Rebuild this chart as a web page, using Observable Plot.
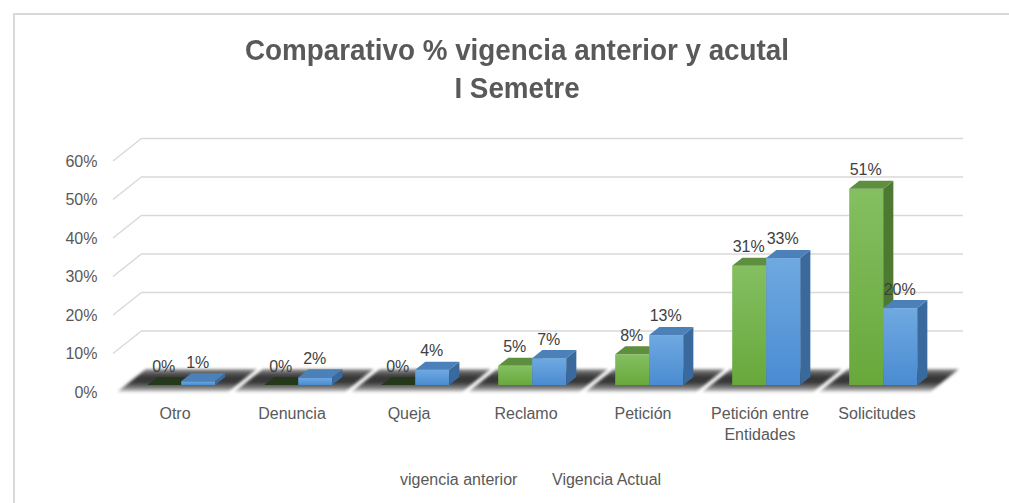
<!DOCTYPE html>
<html>
<head>
<meta charset="utf-8">
<script src="https://cdn.jsdelivr.net/npm/d3@7"></script>
<script src="https://cdn.jsdelivr.net/npm/@observablehq/plot@0.6"></script>
<style>
  body { margin: 0; background: #fff; font-family: "Liberation Sans", Arial, sans-serif; }
  #wrap { position: relative; width: 1009px; height: 503px; overflow: hidden; }
  #frame { position: absolute; left: 13px; top: 13px; width: 1200px; height: 700px; border-left: 2px solid #d9d9d9; border-top: 2px solid #d9d9d9; }
  #title { position: absolute; left: 0; top: 31px; width: 1034px; text-align: center; font-weight: bold; font-size: 30px; line-height: 38px; color: #595959; transform: scaleX(0.927); transform-origin: 517px 0; }
  #chart { position: absolute; left: 0; top: 118px; }
  .leg { position: absolute; top: 471px; font-size: 16px; line-height: 18px; color: #595959; white-space: nowrap; }
</style>
</head>
<body>
<div id="wrap">
  <div id="frame"></div>
  <div id="title">Comparativo % vigencia anterior y acutal<br>I Semetre</div>
  <div id="chart"></div>
  <div id="legend"></div>
</div>
<script>
// ---- data ----
const categories = ["Otro", "Denuncia", "Queja", "Reclamo", "Petición", "Petición entre Entidades", "Solicitudes"];
const categoryLabels = ["Otro", "Denuncia", "Queja", "Reclamo", "Petición", "Petición entre\nEntidades", "Solicitudes"];
const seriesNames = ["vigencia anterior", "Vigencia Actual"];
const vigenciaAnterior = [0, 0, 0, 0.05, 0.08, 0.31, 0.51];
const vigenciaActual = [0.01, 0.02, 0.04, 0.07, 0.13, 0.33, 0.20];
const yTicks = [0, 0.1, 0.2, 0.3, 0.4, 0.5, 0.6];

const data = categories.flatMap((c, i) => [
  {cat: c, series: seriesNames[0], s: 0, value: vigenciaAnterior[i]},
  {cat: c, series: seriesNames[1], s: 1, value: vigenciaActual[i]}
]);

const pct = d3.format(".0%");
const DX = 29, DY = -23;     // depth vector of the 3D box
const F0 = 0.3, F1 = 0.65;   // bar front / back depth fractions
const BARW = 34;

const colors = [
  {front: ["#84bf61", "#68a83b"], top: "#5e8f3f", side: "#4d7a31", zeroTop: "#24391a"},
  {front: ["#6fa9e1", "#4a8bd1"], top: "#4c80b8", side: "#3a6a9d", zeroTop: "#2d5680"}
];

function scene(index, scales, values, dimensions) {
  const x = scales.x, y = scales.y;
  const dom = x.domain();
  const rng = x.range();
  const bw = typeof x.bandwidth === "function" ? x.bandwidth() : (x.bandwidth ?? (rng[1] - rng[0]) / dom.length);
  const g = d3.create("svg:g");
  const defs = g.append("defs");
  const fg = defs.append("linearGradient").attr("id", "floorGrad").attr("x1", 0).attr("y1", 0).attr("x2", 0).attr("y2", 1);
  [[0, "#a0a0a0"], [0.12, "#6a6a6a"], [0.35, "#343434"], [0.6, "#3a3a3a"], [0.85, "#8a8a8a"], [1, "#e0e0e0"]]
    .forEach(([o, c]) => fg.append("stop").attr("offset", o).attr("stop-color", c));
  defs.append("filter").attr("id", "floorBlur").attr("x", "-10%").attr("y", "-30%").attr("width", "120%").attr("height", "160%")
    .append("feGaussianBlur").attr("stdDeviation", 1.6);
  colors.forEach((col, s) => {
    const gr = defs.append("linearGradient").attr("id", "front" + s).attr("x1", 0).attr("y1", 0).attr("x2", 0).attr("y2", 1);
    gr.append("stop").attr("offset", 0).attr("stop-color", col.front[0]);
    gr.append("stop").attr("offset", 1).attr("stop-color", col.front[1]);
  });

  // left wall diagonal grid lines
  const xl0 = rng[0];
  for (const t of yTicks.slice(1)) {
    g.append("line").attr("x1", xl0).attr("y1", y(t)).attr("x2", xl0 + DX).attr("y2", y(t) + DY)
      .attr("stroke", "#d9d9d9").attr("stroke-width", 1.5);
  }

  // floor
  const fl = g.append("g").attr("filter", "url(#floorBlur)");
  for (const c of dom) {
    const a = x(c) + 3, b = x(c) + bw - 3, yb = y(0);
    fl.append("polygon")
      .attr("points", [[a, yb], [b, yb], [b + DX, yb + DY], [a + DX, yb + DY]].map(p => p.join(",")).join(" "))
      .attr("fill", "url(#floorGrad)");
  }

  // bars
  const ddx = (F1 - F0) * DX, ddy = (F1 - F0) * DY;
  for (const i of index) {
    const d = data[i];
    const col = colors[d.s];
    const cx = x(d.cat) + bw / 2 + F0 * DX;
    const xl = d.s === 0 ? cx - BARW : cx, xr = xl + BARW;
    const yb = y(0) + F0 * DY, yt = y(d.value) + F0 * DY;
    const bar = g.append("g");
    if (yb - yt > 0.01) {
      bar.append("rect").attr("x", xl).attr("y", yt).attr("width", BARW).attr("height", yb - yt).attr("fill", `url(#front${d.s})`);
      bar.append("polygon")
        .attr("points", [[xr, yt], [xr + ddx, yt + ddy], [xr + ddx, yb + ddy], [xr, yb]].map(p => p.join(",")).join(" "))
        .attr("fill", col.side);
    }
    bar.append("polygon")
      .attr("points", [[xl, yt], [xr, yt], [xr + ddx, yt + ddy], [xl + ddx, yt + ddy]].map(p => p.join(",")).join(" "))
      .attr("fill", d.value === 0 ? col.zeroTop : col.top);
  }
  return g.node();
}

const plot = Plot.plot({
  width: 1009,
  height: 340,
  marginLeft: 113,
  marginRight: 75,
  marginTop: 10,
  marginBottom: 40,
  style: {background: "transparent", fontFamily: '"Liberation Sans", Arial, sans-serif', fontSize: "16px", color: "#595959", overflow: "visible"},
  x: {type: "band", domain: categories, range: [113, 934], padding: 0, axis: null},
  y: {domain: [0, 0.6], range: [274, 43], axis: null},
  marks: [
    Plot.ruleY(yTicks.slice(1), {y: d => d, dx: DX, dy: DY, stroke: "#d9d9d9", strokeWidth: 1.5}),
    Plot.axisY(yTicks, {tickSize: 0, tickPadding: 16, tickFormat: pct, label: null, fill: "#595959", fontSize: 16}),
    Plot.barY(data, {x: "cat", y: "value", render: scene}),
    Plot.text(data.filter(d => d.s === 0), {x: "cat", y: "value", text: d => pct(d.value), dx: F0 * DX - BARW / 2 - 1, dy: -21, lineAnchor: "bottom", fill: "#404040", fontSize: 16}),
    Plot.text(data.filter(d => d.s === 1), {x: "cat", y: "value", text: d => pct(d.value), dx: F0 * DX + BARW / 2 - 1, dy: -21, lineAnchor: "bottom", fill: "#404040", fontSize: 16}),
    Plot.text(categories, {x: d => d, y: () => 0, text: (d, i) => categoryLabels[i], dx: 2, dy: 12, lineAnchor: "top", lineHeight: 1.3, fill: "#595959", fontSize: 16})
  ]
});
document.getElementById("chart").appendChild(plot);

const legend = document.getElementById("legend");
const legendX = [400, 552];
seriesNames.forEach((n, i) => {
  const s = document.createElement("span");
  s.className = "leg";
  s.style.left = legendX[i] + "px";
  s.textContent = n;
  legend.appendChild(s);
});
</script>
</body>
</html>
